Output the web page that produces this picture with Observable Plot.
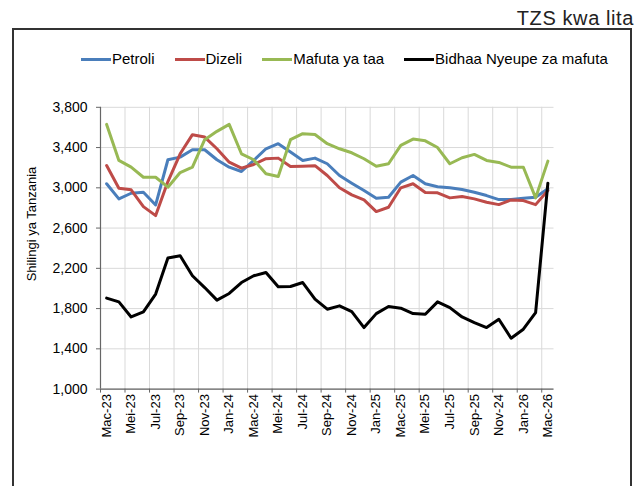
<!DOCTYPE html>
<html>
<head>
<meta charset="utf-8">
<script src="https://cdn.jsdelivr.net/npm/d3@7"></script>
<script src="https://cdn.jsdelivr.net/npm/@observablehq/plot@0.6"></script>
<style>
  html, body { margin: 0; padding: 0; background: #fff; }
  body { width: 640px; height: 486px; position: relative; overflow: hidden; font-family: "Liberation Sans", Arial, Helvetica, sans-serif; color: #000; }
  #title { position: absolute; right: 6px; top: 8px; font-size: 20px; line-height: 20px; letter-spacing: 0.6px; color: #222; white-space: nowrap; }
  #frame { position: absolute; left: 12px; top: 28px; width: 620px; height: 480px; border: 2px solid #333; box-sizing: border-box; }
  #legend { position: absolute; left: 81px; top: 50px; height: 18px; display: flex; align-items: center; font-size: 15px; line-height: 18px; white-space: nowrap; }
  #legend .item { display: flex; align-items: center; margin-right: 20px; }
  #legend .sw { width: 30px; height: 3px; margin-right: 1px; }
  #ylabel { position: absolute; left: 31px; top: 224px; transform: translate(-50%, -50%) rotate(-90deg); font-size: 13px; white-space: nowrap; }
  #chart { position: absolute; left: 0; top: 90px; }
</style>
</head>
<body>
<div id="title">TZS kwa lita</div>
<div id="frame"></div>
<div id="legend"></div>
<div id="ylabel">Shilingi ya Tanzania</div>
<div id="chart"></div>
<script>
const months = ["Mac-23","Apr-23","Mei-23","Jun-23","Jul-23","Ago-23","Sep-23","Okt-23","Nov-23","Des-23",
  "Jan-24","Feb-24","Mac-24","Apr-24","Mei-24","Jun-24","Jul-24","Ago-24","Sep-24","Okt-24","Nov-24","Des-24",
  "Jan-25","Feb-25","Mac-25","Apr-25","Mei-25","Jun-25","Jul-25","Ago-25","Sep-25","Okt-25","Nov-25","Des-25",
  "Jan-26","Feb-26","Mac-26"];
const xTickLabels = ["Mac-23","Mei-23","Jul-23","Sep-23","Nov-23","Jan-24","Mac-24","Mei-24","Jul-24","Sep-24",
  "Nov-24","Jan-25","Mac-25","Mei-25","Jul-25","Sep-25","Nov-24","Jan-26","Mac-26"];
const yTicks = [1000, 1400, 1800, 2200, 2600, 3000, 3400, 3800];

const seriesNames = ["Petroli", "Dizeli", "Mafuta ya taa", "Bidhaa Nyeupe za mafuta"];
const seriesColors = ["#4a7ebb", "#be4b48", "#98b954", "#000000"];

const petroli = [3040, 2890, 2946, 2956, 2830, 3279, 3305, 3378, 3378, 3279, 3205, 3162, 3272, 3388, 3438, 3355, 3272, 3295, 3239, 3122, 3046, 2973, 2896, 2906, 3056, 3122, 3040, 3010, 3000, 2983, 2956, 2923, 2883, 2883, 2896, 2906, 2990];
const dizeli = [3222, 2996, 2980, 2813, 2724, 3062, 3338, 3528, 3504, 3388, 3255, 3195, 3232, 3289, 3295, 3212, 3215, 3220, 3122, 3000, 2930, 2880, 2764, 2807, 3000, 3040, 2953, 2950, 2900, 2913, 2890, 2856, 2833, 2880, 2873, 2833, 2973];
const mafutaYaTaa = [3630, 3272, 3205, 3105, 3105, 3006, 3152, 3205, 3478, 3561, 3630, 3338, 3279, 3139, 3112, 3478, 3538, 3530, 3438, 3388, 3348, 3289, 3215, 3239, 3421, 3484, 3467, 3400, 3239, 3299, 3332, 3272, 3252, 3205, 3205, 2900, 3265];
const bidhaaNyeupe = [1904, 1867, 1717, 1767, 1944, 2302, 2325, 2126, 2009, 1884, 1950, 2059, 2126, 2159, 2016, 2019, 2059, 1894, 1794, 1827, 1770, 1611, 1750, 1820, 1804, 1750, 1744, 1867, 1810, 1717, 1661, 1611, 1694, 1505, 1595, 1760, 3046];

const seriesValues = [petroli, dizeli, mafutaYaTaa, bidhaaNyeupe];

// legend
const legend = document.getElementById("legend");
seriesNames.forEach((n, k) => {
  const it = document.createElement("div");
  it.className = "item";
  const sw = document.createElement("div");
  sw.className = "sw";
  sw.style.background = seriesColors[k];
  const tx = document.createElement("span");
  tx.textContent = n;
  it.appendChild(sw); it.appendChild(tx);
  legend.appendChild(it);
});

const rows = [];
seriesValues.forEach((vals, k) => vals.forEach((v, i) => rows.push({i, month: months[i], series: seriesNames[k], v})));

const labelIdx = xTickLabels.map((_, k) => k * 2);
const tickIdx = xTickLabels.map((_, k) => k * 2 - 0.5);
const gridIdx = tickIdx.filter(d => d > 0);

const chart = Plot.plot({
  width: 640,
  height: 360,
  marginLeft: 100,
  marginRight: 86.5,
  marginTop: 16.8,
  marginBottom: 61.4,
  style: {fontFamily: "'Liberation Sans', Arial, Helvetica, sans-serif", fontSize: "13px", color: "#000", background: "transparent"},
  x: {type: "linear", domain: [-0.5, months.length - 0.5], label: null},
  y: {domain: [1000, 3800], label: null},
  color: {domain: seriesNames, range: seriesColors},
  marks: [
    Plot.gridY(yTicks, {stroke: "#d9d9d9", strokeOpacity: 1, strokeWidth: 1}),
    Plot.gridX(gridIdx, {stroke: "#d9d9d9", strokeOpacity: 1, strokeWidth: 1}),
    Plot.axisX(tickIdx, {tickSize: 4, tickFormat: () => "", stroke: "#666", label: null}),
    Plot.axisX(labelIdx, {tickSize: 0, tickPadding: 5, tickRotate: -90, tickFormat: d => xTickLabels[d / 2], fontSize: 13, fill: "#000", label: null}),
    Plot.axisY(yTicks, {tickSize: 4, tickPadding: 9, tickFormat: d3.format(","), fontSize: 14, stroke: "#666", fill: "#000", label: null}),
    Plot.ruleY([1000], {stroke: "#666", strokeWidth: 1.2}),
    Plot.ruleX([-0.5], {stroke: "#666", strokeWidth: 1.2}),
    ...seriesNames.map(name => Plot.lineY(rows.filter(r => r.series === name), {x: "i", y: "v", stroke: "series", strokeWidth: 3}))
  ]
});
document.getElementById("chart").appendChild(chart);
</script>
</body>
</html>
